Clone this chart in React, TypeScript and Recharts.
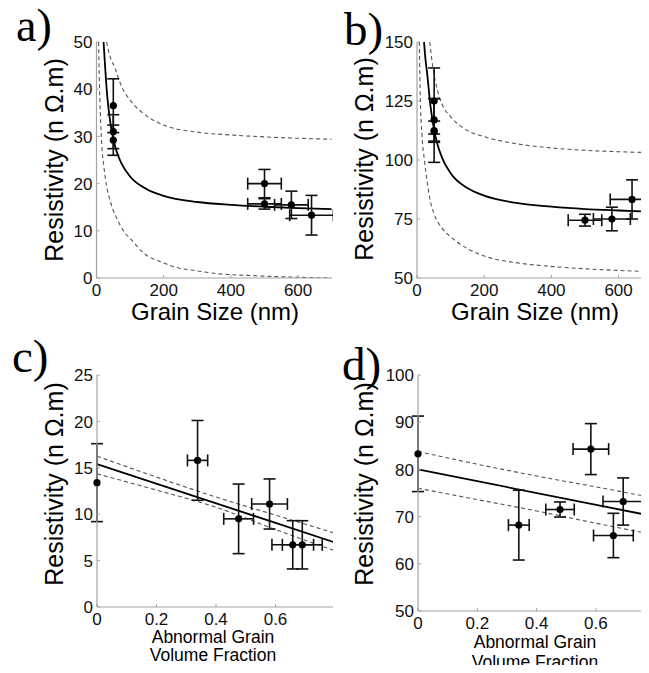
import React from "react";
import { ComposedChart, Line, Scatter, XAxis, YAxis, ErrorBar } from "recharts";

// ---------- Panel a: resistivity vs grain size ----------
const aPointX = [50, 50, 50, 500, 500, 580, 640];
const aPointY = [36.5, 31, 29.2, 20, 15.7, 15.5, 13.3];
const aPointEx = [0, 0, 0, 50, 50, 50, 65];
const aPointEy = [5.7, 3.6, 3.2, 3, 1.1, 2.9, 4.2];
const aFitX = [21, 25, 30, 35, 40, 50, 60, 75, 100, 150, 200, 300, 400, 500, 600, 700];
const aFitY = [50, 45.5, 40.2, 36.4, 33.5, 29.5, 26.8, 24.2, 21.5, 18.8, 17.4, 16.1, 15.5, 15.1, 14.8, 14.6];
const aUpX = [30, 40, 55, 75, 100, 150, 200, 300, 400, 500, 600, 700];
const aUpY = [50, 47, 44.5, 40.5, 37.7, 34.3, 32.4, 30.9, 30.3, 29.9, 29.6, 29.4];
const aLoX = [6, 10, 15, 22, 30, 40, 50, 60, 85, 100, 140, 200, 230, 300, 350, 500, 700];
const aLoY = [50, 38, 29, 23.6, 19.5, 16.5, 14.3, 12.7, 9.5, 8.4, 5.3, 3.2, 2.4, 1.5, 1.0, 0.4, 0.0];
const aTicksX = [0, 200, 400, 600];
const aTicksY = [0, 10, 20, 30, 40, 50];

// ---------- Panel b ----------
const bPointX = [51, 51, 51, 51, 500, 580, 640];
const bPointY = [125, 117, 112.5, 112, 74.5, 75, 83.3];
const bPointEx = [0, 0, 0, 0, 50, 55, 65];
const bPointEy = [14, 9, 13.5, 4.5, 2.5, 5, 8.3];
const bFitX = [21, 25, 30, 40, 50, 60, 75, 100, 150, 200, 300, 400, 500, 600, 700];
const bFitY = [150, 143, 137, 123, 113.4, 107.1, 100.8, 94.4, 88.1, 84.9, 81.7, 80.2, 79.2, 78.6, 78.1];
const bUpX = [38, 47, 60, 75, 100, 150, 200, 300, 400, 500, 600, 700];
const bUpY = [150, 139.5, 130, 123.5, 118.4, 112.5, 109.9, 106.8, 105.1, 104.1, 103.5, 103.1];
const bLoX = [7, 10, 15, 22, 30, 39, 50, 75, 100, 150, 207, 300, 408, 500, 600, 700];
const bLoY = [150, 125, 110, 100, 91, 83, 77.5, 71, 67.5, 62.5, 59, 56.4, 54.8, 53.9, 53.2, 52.7];
const bTicksX = [0, 200, 400, 600];
const bTicksY = [50, 75, 100, 125, 150];

// ---------- Panel c: resistivity vs abnormal grain volume fraction ----------
const cPointX = [0, 0.338, 0.476, 0.58, 0.658, 0.69];
const cPointY = [13.4, 15.8, 9.5, 11.1, 6.7, 6.7];
const cPointEx = [0, 0.034, 0.05, 0.06, 0.07, 0.067];
const cPointEy = [4.2, 4.3, 3.75, 2.7, 2.6, 2.6];
const cFitX = [0, 0.8];
const cFitY = [15.4, 6.95];
const cUpX = [0, 0.2, 0.4, 0.6, 0.8];
const cUpY = [16.25, 14.0, 11.85, 9.9, 7.95];
const cLoX = [0, 0.2, 0.4, 0.6, 0.8];
const cLoY = [14.35, 12.6, 10.75, 8.35, 6.05];
const cTicksX = [0, 0.2, 0.4, 0.6];
const cTicksY = [0, 5, 10, 15, 20, 25];

// ---------- Panel d ----------
const dPointX = [0, 0.34, 0.479, 0.583, 0.659, 0.692];
const dPointY = [83.3, 68.2, 71.5, 84.3, 66.0, 73.2];
const dPointEx = [0, 0.035, 0.048, 0.06, 0.067, 0.068];
const dPointEy = [8, 7.4, 1.6, 5.4, 4.7, 5];
const dFitX = [0, 0.8];
const dFitY = [80, 70.0];
const dUpX = [0, 0.2, 0.4, 0.6, 0.8];
const dUpY = [83.8, 81.1, 78.6, 76.3, 73.9];
const dLoX = [0, 0.2, 0.4, 0.6, 0.8];
const dLoY = [76.0, 73.6, 71.2, 68.6, 66.1];
const dTicksX = [0, 0.2, 0.4, 0.6];
const dTicksY = [50, 60, 70, 80, 90, 100];

const SANS = "'Liberation Sans', Arial, Helvetica, sans-serif";
const SERIF = "'Liberation Serif', 'Times New Roman', serif";
const AXIS = "#a3a3a3";

const zipXY = (xs: number[], ys: number[]) => xs.map((x, i) => ({ x, y: ys[i] }));
const zipPts = (xs: number[], ys: number[], ex: number[], ey: number[]) =>
  xs.map((x, i) => ({ x, y: ys[i], ex: ex[i], ey: ey[i] }));

const YTick = (props: any) => {
  const { x, y, payload } = props;
  return (
    <g>
      <line x1={x} x2={x + 3} y1={y} y2={y} stroke={AXIS} strokeWidth={1} />
      <text x={x - 4} y={y} dy="0.36em" textAnchor="end" fontFamily={SANS} fontSize={17} fill="#111">
        {payload.value}
      </text>
    </g>
  );
};

const XTick = (props: any) => {
  const { x, y, payload } = props;
  return (
    <g>
      <line x1={x} x2={x} y1={y} y2={y - 3} stroke={AXIS} strokeWidth={1} />
      <text x={x} y={y + 6} dy="0.71em" textAnchor="middle" fontFamily={SANS} fontSize={17} fill="#111">
        {payload.value}
      </text>
    </g>
  );
};

const Dot = (props: any) => <circle cx={props.cx} cy={props.cy} r={3.6} fill="#000" />;

type PanelProps = {
  left: number;
  top: number;
  width: number;
  height: number;
  yAxisWidth: number;
  xAxisHeight: number;
  marginTop: number;
  marginRight: number;
  xDomain: [number, number];
  yDomain: [number, number];
  xTicks: number[];
  yTicks: number[];
  points: { x: number; y: number; ex: number; ey: number }[];
  fit: { x: number; y: number }[];
  up: { x: number; y: number }[];
  lo: { x: number; y: number }[];
  clip: boolean;
};

const Panel = (p: PanelProps) => (
  <div style={{ position: "absolute", left: p.left, top: p.top, width: p.width, height: p.height }}>
    <ComposedChart
      width={p.width}
      height={p.height}
      margin={{ top: p.marginTop, right: p.marginRight, bottom: 0, left: 0 }}
    >
      <XAxis
        type="number"
        dataKey="x"
        domain={p.xDomain}
        ticks={p.xTicks}
        allowDataOverflow={p.clip}
        height={p.xAxisHeight}
        tickSize={0}
        tickMargin={0}
        tick={<XTick />}
        axisLine={{ stroke: AXIS, strokeWidth: 1.2 }}
        tickLine={false}
        interval={0}
      />
      <YAxis
        type="number"
        dataKey="y"
        domain={p.yDomain}
        ticks={p.yTicks}
        allowDataOverflow={p.clip}
        width={p.yAxisWidth}
        tickSize={0}
        tickMargin={0}
        tick={<YTick />}
        axisLine={{ stroke: AXIS, strokeWidth: 1.2 }}
        tickLine={false}
        interval={0}
      />
      <Line data={p.up} dataKey="y" type="monotone" stroke="#555" strokeWidth={1.1} strokeDasharray="4 3" dot={false} isAnimationActive={false} />
      <Line data={p.lo} dataKey="y" type="monotone" stroke="#555" strokeWidth={1.1} strokeDasharray="4 3" dot={false} isAnimationActive={false} />
      <Line data={p.fit} dataKey="y" type="monotone" stroke="#000" strokeWidth={1.8} dot={false} isAnimationActive={false} />
      <Scatter data={p.points} dataKey="y" shape={<Dot />} isAnimationActive={false}>
        <ErrorBar dataKey="ey" direction="y" width={6} stroke="#111" strokeWidth={1.6} isAnimationActive={false} />
        <ErrorBar dataKey="ex" direction="x" width={6} stroke="#111" strokeWidth={1.6} isAnimationActive={false} />
      </Scatter>
    </ComposedChart>
  </div>
);

const Labels = () => (
  <svg width={649} height={673} style={{ position: "absolute", left: 0, top: 0, pointerEvents: "none" }}>
    <text x={16} y={41} fontFamily={SERIF} fontSize={46} fill="#000">a)</text>
    <text x={344} y={45} fontFamily={SERIF} fontSize={47} fill="#000">b)</text>
    <text x={12} y={372} fontFamily={SERIF} fontSize={47} fill="#000">c)</text>
    <text x={342} y={380} fontFamily={SERIF} fontSize={47} fill="#000">d)</text>
    <text transform="translate(63,160) rotate(-90)" textAnchor="middle" fontFamily={SANS} fontSize={25} fill="#000">Resistivity (n Ω.m)</text>
    <text transform="translate(373,159) rotate(-90)" textAnchor="middle" fontFamily={SANS} fontSize={25} fill="#000">Resistivity (n Ω.m)</text>
    <text transform="translate(63,484) rotate(-90)" textAnchor="middle" fontFamily={SANS} fontSize={25} fill="#000">Resistivity (n Ω.m)</text>
    <text transform="translate(373,484) rotate(-90)" textAnchor="middle" fontFamily={SANS} fontSize={25} fill="#000">Resistivity (n Ω.m)</text>
    <text x={215} y={320} textAnchor="middle" fontFamily={SANS} fontSize={24} fill="#000">Grain Size (nm)</text>
    <text x={535} y={320} textAnchor="middle" fontFamily={SANS} fontSize={24} fill="#000">Grain Size (nm)</text>
    <text x={213} y={643} textAnchor="middle" fontFamily={SANS} fontSize={17.5} fill="#000">Abnormal Grain</text>
    <text x={213} y={661} textAnchor="middle" fontFamily={SANS} fontSize={17.5} fill="#000">Volume Fraction</text>
    <text x={535} y={648} textAnchor="middle" fontFamily={SANS} fontSize={17.5} fill="#000">Abnormal Grain</text>
    <text x={535} y={668} textAnchor="middle" fontFamily={SANS} fontSize={17.5} fill="#000">Volume Fraction</text>
  </svg>
);

export default function App() {
  return (
    <div style={{ position: "relative", width: 649, height: 673, margin: -8, overflow: "hidden", background: "#fff" }}>
      <div style={{ position: "absolute", left: 0, top: 0, width: 333, height: 330, overflow: "hidden" }}>
        <Panel
          left={0} top={0} width={340} height={330}
          yAxisWidth={96.5} xAxisHeight={52} marginTop={42} marginRight={340 - 331.7}
          xDomain={[0, 700]} yDomain={[0, 50]} xTicks={aTicksX} yTicks={aTicksY}
          points={zipPts(aPointX, aPointY, aPointEx, aPointEy)}
          fit={zipXY(aFitX, aFitY)} up={zipXY(aUpX, aUpY)} lo={zipXY(aLoX, aLoY)} clip={true}
        />
      </div>
      <Panel
        left={333} top={0} width={330} height={330}
        yAxisWidth={84} xAxisHeight={52} marginTop={42} marginRight={330 - 84 - 235.2}
        xDomain={[0, 700]} yDomain={[50, 150]} xTicks={bTicksX} yTicks={bTicksY}
        points={zipPts(bPointX, bPointY, bPointEx, bPointEy)}
        fit={zipXY(bFitX, bFitY)} up={zipXY(bUpX, bUpY)} lo={zipXY(bLoX, bLoY)} clip={true}
      />
      <div style={{ position: "absolute", left: 0, top: 330, width: 333, height: 343, overflow: "hidden" }}>
        <Panel
          left={0} top={0} width={340} height={343}
          yAxisWidth={97} xAxisHeight={343 - 277} marginTop={45} marginRight={340 - 335}
          xDomain={[0, 0.8]} yDomain={[0, 25]} xTicks={cTicksX} yTicks={cTicksY}
          points={zipPts(cPointX, cPointY, cPointEx, cPointEy)}
          fit={zipXY(cFitX, cFitY)} up={zipXY(cUpX, cUpY)} lo={zipXY(cLoX, cLoY)} clip={false}
        />
      </div>
      <Panel
        left={333} top={330} width={330} height={343}
        yAxisWidth={85} xAxisHeight={343 - 281} marginTop={45} marginRight={330 - 85 - 237.2}
        xDomain={[0, 0.8]} yDomain={[50, 100]} xTicks={dTicksX} yTicks={dTicksY}
        points={zipPts(dPointX, dPointY, dPointEx, dPointEy)}
        fit={zipXY(dFitX, dFitY)} up={zipXY(dUpX, dUpY)} lo={zipXY(dLoX, dLoY)} clip={false}
      />
      <Labels />
    </div>
  );
}
